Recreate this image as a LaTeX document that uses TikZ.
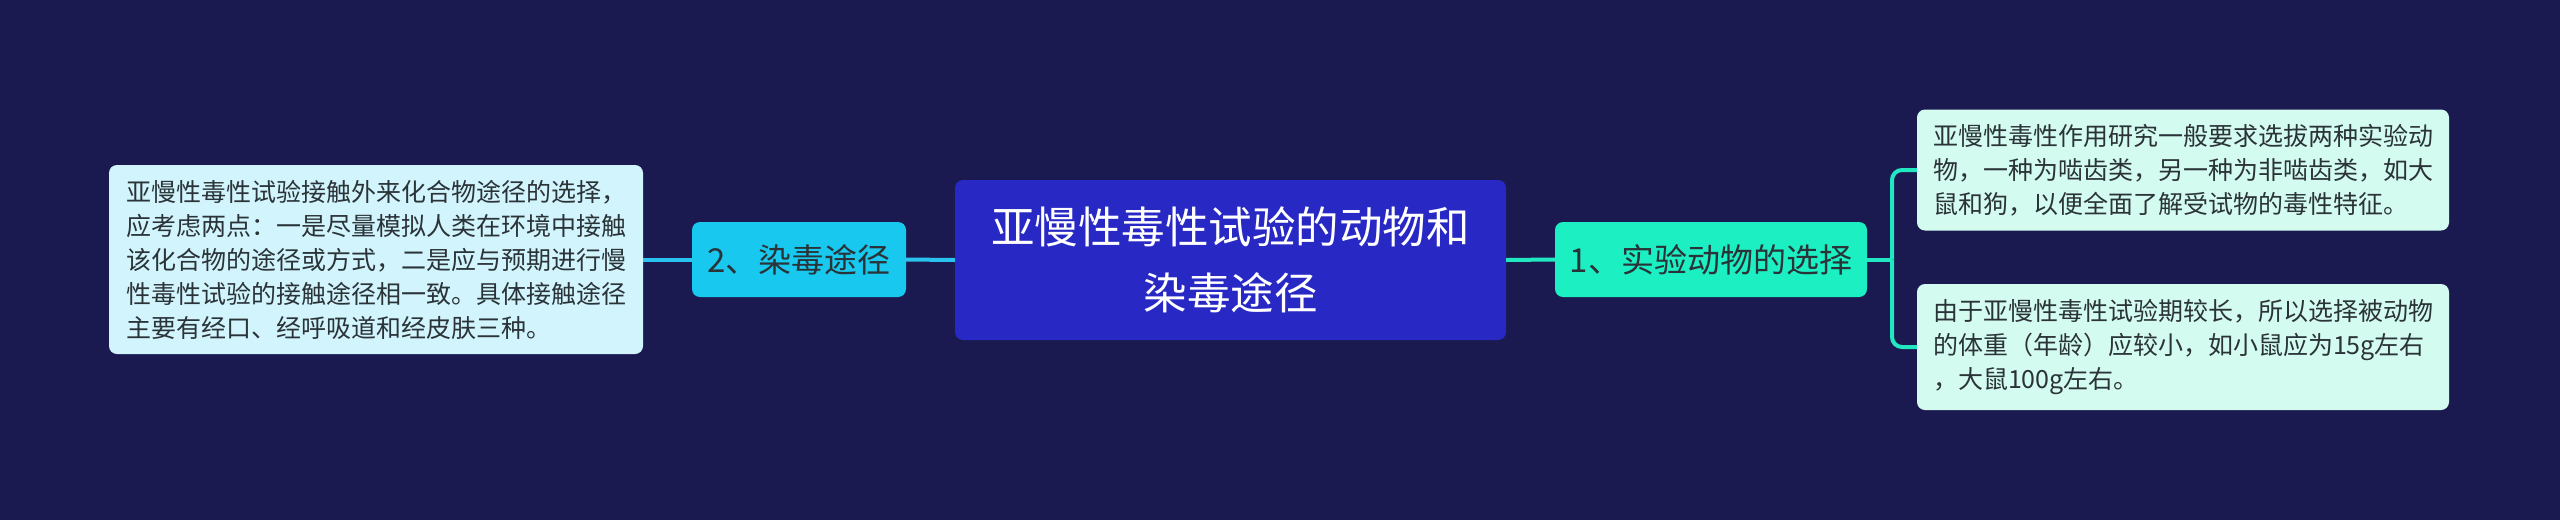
\documentclass[tikz,border=0pt]{standalone}
\usepackage{fontspec}
\setmainfont{Noto Sans CJK SC}
\definecolor{bgc}{HTML}{1B1A50}
\definecolor{rootc}{HTML}{2828C5}
\definecolor{ltopc}{HTML}{18C8EF}
\definecolor{rtopc}{HTML}{1CF0C3}
\definecolor{lleafc}{HTML}{D2F4FC}
\definecolor{rleafc}{HTML}{D4FBF0}
\definecolor{llinec}{HTML}{2AC2EE}
\definecolor{rlinec}{HTML}{22E8C2}
\definecolor{txtc}{HTML}{2A3338}
\tikzset{
  rootbox/.style={fill=rootc, rounded corners=8pt, text=white, align=center,
    font=\fontsize{43.5}{66}\selectfont, inner sep=0pt},
  topicbox/.style={rounded corners=8pt, text=txtc, align=center,
    font=\fontsize{33}{40}\selectfont, inner sep=0pt},
  leafbox/.style={rounded corners=8pt, text=txtc, align=left,
    font=\fontsize{25}{34}\selectfont, inner sep=0pt},
  lconn/.style={draw=llinec, line width=4pt},
  rconn/.style={draw=rlinec, line width=4pt, rounded corners=10pt},
}
\begin{document}
\begin{tikzpicture}[x=1pt,y=-1pt]
\fill[bgc] (0,0) rectangle (2560,520);
\useasboundingbox (0,0) rectangle (2560,520);

\node[rootbox, minimum width=551pt, minimum height=160pt] (root) at (1230.5,260)
  {亚慢性毒性试验的动物和\\染毒途径};
\node[topicbox, fill=ltopc, minimum width=214pt, minimum height=75pt] (t2) at (799,259.5)
  {2、染毒途径};
\node[topicbox, fill=rtopc, minimum width=312pt, minimum height=75pt] (t1) at (1711,259.5)
  {1、实验动物的选择};
\node[leafbox, fill=lleafc, minimum width=534pt, minimum height=189pt] (l1) at (376,259.5)
  {亚慢性毒性试验接触外来化合物途径的选择，\\应考虑两点：一是尽量模拟人类在环境中接触\\该化合物的途径或方式，二是应与预期进行慢\\性毒性试验的接触途径相一致。具体接触途径\\主要有经口、经呼吸道和经皮肤三种。};
\node[leafbox, fill=rleafc, minimum width=532pt, minimum height=121pt] (r1) at (2183,170)
  {亚慢性毒性作用研究一般要求选拔两种实验动\\物，一种为啮齿类，另一种为非啮齿类，如大\\鼠和狗，以便全面了解受试物的毒性特征。};
\node[leafbox, fill=rleafc, minimum width=532pt, minimum height=126pt] (r2) at (2183,347)
  {由于亚慢性毒性试验期较长，所以选择被动物\\的体重（年龄）应较小，如小鼠应为15g左右\\，大鼠100g左右。};

\coordinate (fork) at (1892,259.5);

\draw[lconn] (root.west) -- (t2.east);
\draw[lconn] (t2.west) -- (l1.east);
\draw[rconn] (root.east) -- (t1.west);
\draw[rconn] (t1.east) -- (fork);
\draw[rconn] (fork) |- (r1.west);
\draw[rconn] (fork) |- (r2.west);
\end{tikzpicture}
\end{document}
